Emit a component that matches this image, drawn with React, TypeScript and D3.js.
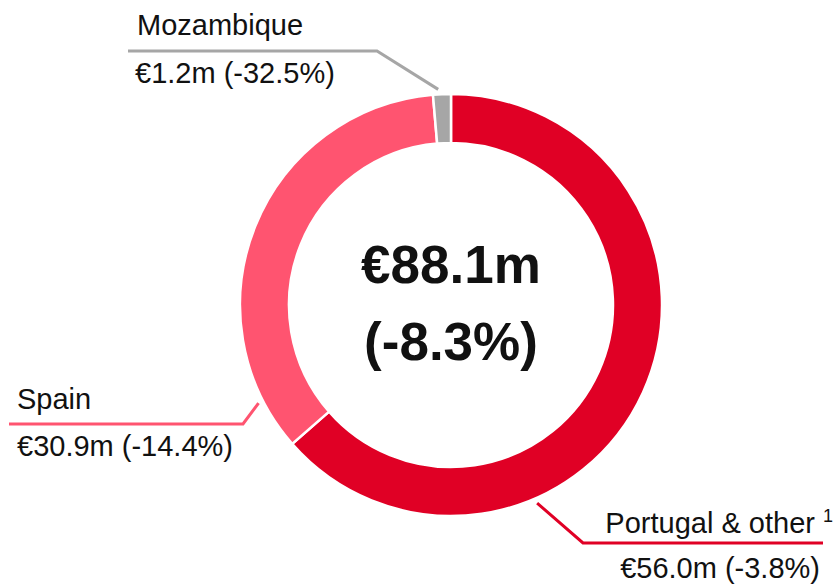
import React from "react";
import * as d3 from "d3";

const categories = ["Portugal & other", "Spain", "Mozambique"];
const values = [56.0, 30.9, 1.2];
const changes = ["-3.8%", "-14.4%", "-32.5%"];
const colors = ["#E00025", "#FF5470", "#A6A6A6"];
const totalLabel = "€88.1m";
const totalChange = "(-8.3%)";

// label layout (anchor angle in degrees on the ring, text geometry)
const labelLayout = [
  { angle: 156.5, elbow: [583, 543], end: 823, anchor: "end", tx: 833, nameY: 533, valX: 820, valY: 578, sup: "1" },
  { angle: 243, elbow: [243, 424], end: 9, anchor: "start", tx: 17, nameY: 409, valX: 17, valY: 456, sup: "" },
  { angle: 356.6, elbow: [377, 51], end: 128, anchor: "start", tx: 137, nameY: 35, valX: 135, valY: 83, sup: "" },
];

const W = 836;
const H = 587;
const cx = 451;
const cy = 305;
const outerR = 211;
const innerR = 162;
const lineR = 216;

export default function App() {
  const pie = d3.pie<number>().sort(null).value((d) => d)(values);
  const arc = d3.arc<d3.PieArcDatum<number>>().innerRadius(innerR).outerRadius(outerR);
  const font = "'Liberation Sans', Arial, sans-serif";
  return (
    <svg width={W} height={H} style={{ position: "absolute", left: 0, top: 0 }} fontFamily={font}>
      <rect width={W} height={H} fill="#fff" />
      <g transform={`translate(${cx},${cy})`}>
        {pie.map((p, i) => (
          <path key={i} d={arc(p) || ""} fill={colors[i]} stroke="#fff" strokeWidth={2.5} />
        ))}
      </g>
      {labelLayout.map((l, i) => {
        const a = (l.angle * Math.PI) / 180;
        const sx = cx + lineR * Math.sin(a);
        const sy = cy - lineR * Math.cos(a);
        const pts = `${sx},${sy} ${l.elbow[0]},${l.elbow[1]} ${l.end},${l.elbow[1]}`;
        return (
          <g key={i}>
            <polyline points={pts} fill="none" stroke={colors[i]} strokeWidth={3} />
            <text x={l.tx} y={l.nameY} fontSize={29} fill="#111" textAnchor={l.anchor as any}>
              {categories[i]}
              {l.sup ? (
                <>
                  <tspan> </tspan>
                  <tspan fontSize={18} dy={-11}>{l.sup}</tspan>
                </>
              ) : null}
            </text>
            <text x={l.valX} y={l.valY} fontSize={29} fill="#111" textAnchor={l.anchor as any}>
              {`€${values[i].toFixed(1)}m (${changes[i]})`}
            </text>
          </g>
        );
      })}
      <text x={cx} y={283} fontSize={53} fontWeight="bold" textAnchor="middle" fill="#111">
        {totalLabel}
      </text>
      <text x={cx} y={360} fontSize={53} fontWeight="bold" textAnchor="middle" fill="#111">
        {totalChange}
      </text>
    </svg>
  );
}
